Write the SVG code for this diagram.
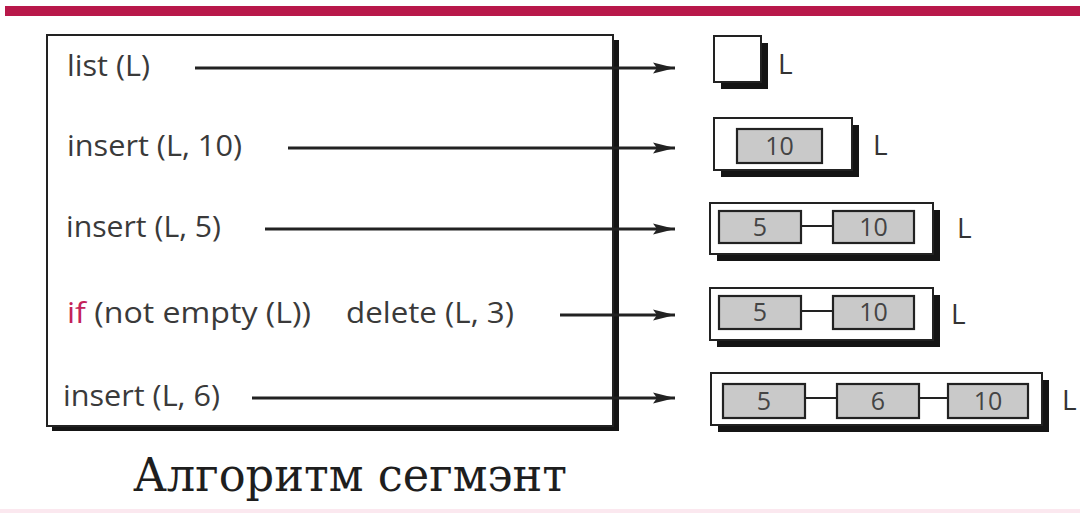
<svg xmlns="http://www.w3.org/2000/svg" width="1080" height="516" viewBox="0 0 1080 516">
<defs>
<marker id="ah" markerUnits="userSpaceOnUse" markerWidth="24" markerHeight="12" refX="22" refY="6" orient="auto"><path d="M0,0.5 L22,6 L0,11.5 L4,6 Z" fill="#222"/></marker>
</defs>
<style>
.code{font-family:"Open Sans","Liberation Sans",sans-serif;font-size:29px;fill:#3a3a3a}
.kw{fill:#c4225a}
.num{font-family:"Open Sans","Liberation Sans",sans-serif;font-size:25px;fill:#444;text-anchor:middle}
.lbl{font-family:"Open Sans","Liberation Sans",sans-serif;font-size:28px;fill:#333}
.arrow{stroke:#222;stroke-width:2.8;fill:none;marker-end:url(#ah)}
.shadow{fill:#151515}
.outer{fill:#fff;stroke:#222;stroke-width:2}
.cell{fill:#c9c9c9;stroke:#222;stroke-width:2.2}
.link{stroke:#222;stroke-width:2}
.title{font-family:"DejaVu Serif","Liberation Serif",serif;font-size:47px;fill:#1e1e1e}
</style>
<rect width="1080" height="516" fill="#fff"/>
<rect x="5" y="6" width="1075" height="10" fill="#b8184a"/>
<rect x="0" y="509" width="1080" height="4" fill="#fbe8ef"/>

<g id="algorithm">
  <rect class="shadow" x="52" y="40" width="567" height="391"/>
  <rect class="outer" x="47" y="35" width="566" height="391" stroke="#444"/>
  <text class="code" x="67" y="76" textLength="83" lengthAdjust="spacingAndGlyphs">list (L)</text>
  <text class="code" x="67" y="156" textLength="175" lengthAdjust="spacingAndGlyphs">insert (L, 10)</text>
  <text class="code" x="66" y="237" textLength="155" lengthAdjust="spacingAndGlyphs">insert (L, 5)</text>
  <text class="code" x="67" y="323" textLength="244" lengthAdjust="spacingAndGlyphs"><tspan class="kw">if</tspan> (not empty (L))</text>
  <text class="code" x="346" y="323" textLength="168" lengthAdjust="spacingAndGlyphs">delete (L, 3)</text>
  <text class="code" x="63" y="406" textLength="157" lengthAdjust="spacingAndGlyphs">insert (L, 6)</text>
</g>

<g id="state1">
  <rect class="shadow" x="721" y="43" width="47" height="46"/>
  <rect class="outer" x="714" y="36" width="47" height="46"/>
  <text class="lbl" x="778" y="74">L</text>
</g>

<g id="state2">
  <rect class="shadow" x="721" y="125" width="138" height="52"/>
  <rect class="outer" x="714" y="118" width="138" height="52"/>
  <rect class="cell" x="737" y="129" width="85" height="34"/>
  <text class="num" x="779.5" y="155">10</text>
  <text class="lbl" x="873" y="155">L</text>
</g>

<g id="state3">
  <rect class="shadow" x="717" y="210" width="223" height="51"/>
  <rect class="outer" x="710" y="203" width="223" height="51"/>
  <line class="link" x1="801" y1="226" x2="833" y2="226"/>
  <rect class="cell" x="719" y="211" width="82" height="32"/>
  <rect class="cell" x="833" y="211" width="81" height="32"/>
  <text class="num" x="760" y="236">5</text>
  <text class="num" x="873.5" y="236">10</text>
  <text class="lbl" x="957" y="238">L</text>
</g>

<g id="state4">
  <rect class="shadow" x="717" y="295" width="223" height="52"/>
  <rect class="outer" x="710" y="288" width="223" height="52"/>
  <line class="link" x1="801" y1="311" x2="833" y2="311"/>
  <rect class="cell" x="719" y="296" width="82" height="33"/>
  <rect class="cell" x="833" y="296" width="81" height="33"/>
  <text class="num" x="760" y="321">5</text>
  <text class="num" x="873.5" y="321">10</text>
  <text class="lbl" x="951" y="324">L</text>
</g>

<g id="state5">
  <rect class="shadow" x="718" y="380" width="331" height="52"/>
  <rect class="outer" x="711" y="373" width="331" height="52"/>
  <line class="link" x1="805" y1="398" x2="837" y2="398"/>
  <line class="link" x1="919" y1="398" x2="948" y2="398"/>
  <rect class="cell" x="723" y="384" width="82" height="34"/>
  <rect class="cell" x="837" y="384" width="82" height="34"/>
  <rect class="cell" x="948" y="384" width="80" height="34"/>
  <text class="num" x="764" y="410">5</text>
  <text class="num" x="878" y="410">6</text>
  <text class="num" x="988" y="410">10</text>
  <text class="lbl" x="1062" y="410">L</text>
</g>

<g id="connectors">
  <line class="arrow" x1="195" y1="68" x2="675" y2="68"/>
  <line class="arrow" x1="288" y1="148" x2="675" y2="148"/>
  <line class="arrow" x1="265" y1="229" x2="675" y2="229"/>
  <line class="arrow" x1="560" y1="315" x2="675" y2="315"/>
  <line class="arrow" x1="252" y1="398" x2="675" y2="398"/>
</g>

<g id="caption">
  <text class="title" x="133" y="491" textLength="434" lengthAdjust="spacingAndGlyphs">Алгоритм сегмэнт</text>
</g>
</svg>
